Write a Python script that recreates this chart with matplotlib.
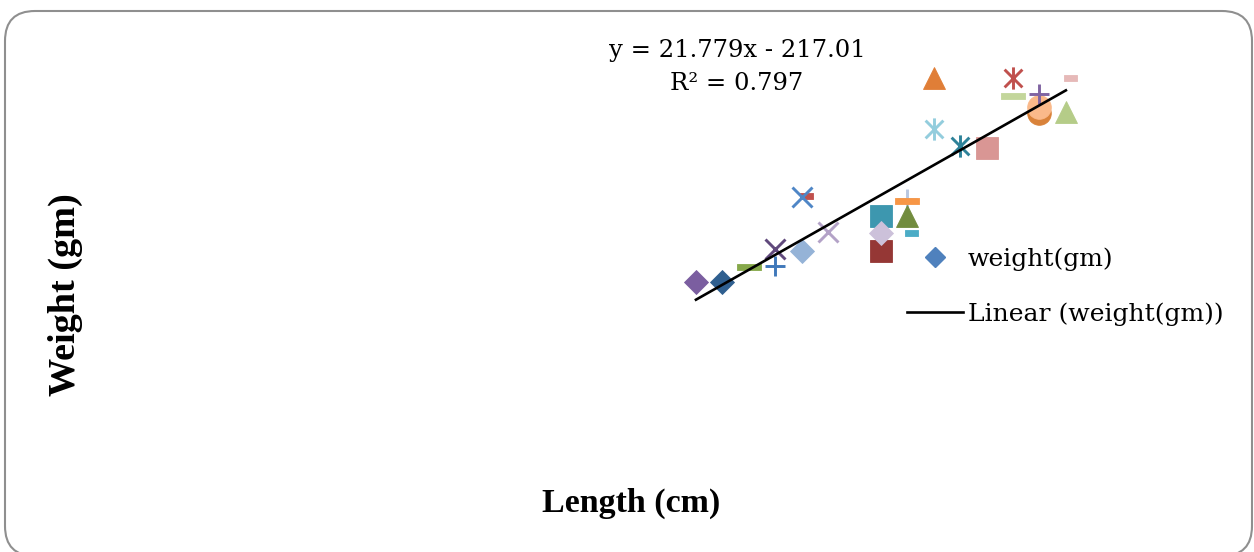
import matplotlib.pyplot as plt
import numpy as np
from matplotlib.path import Path
from matplotlib.patches import FancyBboxPatch
from matplotlib.lines import Line2D

# fish length / weight, one marker per point (Excel "vary colors by point")
length_cm = [12.0, 12.5, 13.0, 13.5, 13.5, 14.0, 14.0, 14.0, 14.5, 15.5, 15.5, 15.5, 16.0, 16.0,
             16.0, 16.0, 16.5, 16.5, 17.0, 17.5, 18.0, 18.0, 18.5, 18.5, 18.5, 19.0, 19.0]
weight_gm = [57, 57, 68, 69, 81, 80, 120, 119, 94, 105, 80, 93, 118, 116,
             105, 93, 169, 206, 156, 155, 206, 193, 180, 185, 194, 181, 206]

slope, intercept = 21.779, -217.01
r_squared = 0.797

kinds = ['D', 'D', '-', '+', 'x', 'D', '_', 'x', 'x', 's', 's', 'D', '+', '-',
         '^', '_', '*', '^', '*', 's', '*', '-', 'o', 'o', '+', '^', '_']
colors = ['#7B5EA0', '#2F5F8F', '#86A84A', '#3F78BA', '#60497C', '#95B3D7', '#C0504D',
          '#4F86C6', '#B3A2C7', '#3D97AF', '#953735', '#CCC1DA', '#B9C7E0', '#F79646',
          '#728C3E', '#4BACC6', '#93CDDD', '#E07E37', '#2E8299', '#D99694', '#C0504D',
          '#C3D69B', '#D9823A', '#FAB98A', '#8064A2', '#B5CC88', '#E6B9B8']

dash = Path([(-1, -0.3), (1, -0.3), (1, 0.3), (-1, 0.3), (-1, -0.3)], closed=True)
short_dash = Path([(-0.2, -0.25), (1, -0.25), (1, 0.25), (-0.2, 0.25), (-0.2, -0.25)], closed=True)
asterisk = Path([(0, -1), (0, 1), (-0.8, -0.8), (0.8, 0.8), (-0.8, 0.8), (0.8, -0.8)],
                [Path.MOVETO, Path.LINETO] * 3)

# kind -> (marker, size, filled)
styles = {
    'D': ('D', 11.8, True),
    's': ('s', 16.5, True),
    '^': ('^', 16, True),
    'o': ('o', 17, True),
    'x': ('x', 15, False),
    '+': ('+', 15, False),
    '*': (asterisk, 16, False),
    '-': (dash, 16.6, True),
    '_': (short_dash, 15.6, True),
}

fig = plt.figure(figsize=(12.54, 5.52), dpi=100)
ax = fig.add_axes([0, 0, 1, 1])
ax.set_xlim(-1.17, 22.56)
ax.set_ylim(-139.4, 262.6)
ax.axis('off')

for x, y, k, c in zip(length_cm, weight_gm, kinds, colors):
    m, ms, filled = styles[k]
    if filled:
        ax.plot([x], [y], ls='none', marker=m, ms=ms, color=c, mec=c, mew=0.6)
    else:
        ax.plot([x], [y], ls='none', marker=m, ms=ms, mfc='none', mec=c, mew=2.1)

xs = np.array([min(length_cm), max(length_cm)])
ax.plot(xs, slope * xs + intercept, color='black', lw=1.9, zorder=5)

serif = 'DejaVu Serif'
fig.text(737 / 1254, 1 - 67 / 552, f"y = {slope}x - {abs(intercept):.2f}\nR² = {r_squared}",
         ha='center', va='center', multialignment='center', family=serif, fontsize=17.5,
         linespacing=1.5)

fig.text(631 / 1254, 1 - 503 / 552, 'Length (cm)', ha='center', va='center',
         family='Liberation Serif', fontweight='bold', fontsize=24.5)
fig.text(65 / 1254, 1 - 295 / 552, 'Weight (gm)', ha='center', va='center', rotation=90,
         family='Liberation Serif', fontweight='bold', fontsize=27.5)

handles = [Line2D([], [], ls='none', marker='D', ms=9.7, color='#4F81BD'),
           Line2D([], [], color='black', lw=1.9)]
fig.legend(handles, ['weight(gm)', 'Linear (weight(gm))'], loc='upper left',
           bbox_to_anchor=(907 / 1254, 1 - 247 / 552), frameon=False, borderpad=0,
           borderaxespad=0, handlelength=2.24, handletextpad=0.2, labelspacing=1.28,
           prop={'family': serif, 'size': 18})

border = FancyBboxPatch((0.05, -0.04), 12.47, 5.45, boxstyle='round,pad=0,rounding_size=0.3',
                        transform=fig.dpi_scale_trans, facecolor='none', edgecolor='#8f8f8f',
                        lw=1.5, clip_on=False)
fig.patches.append(border)

fig.savefig('out.png', dpi=100)
